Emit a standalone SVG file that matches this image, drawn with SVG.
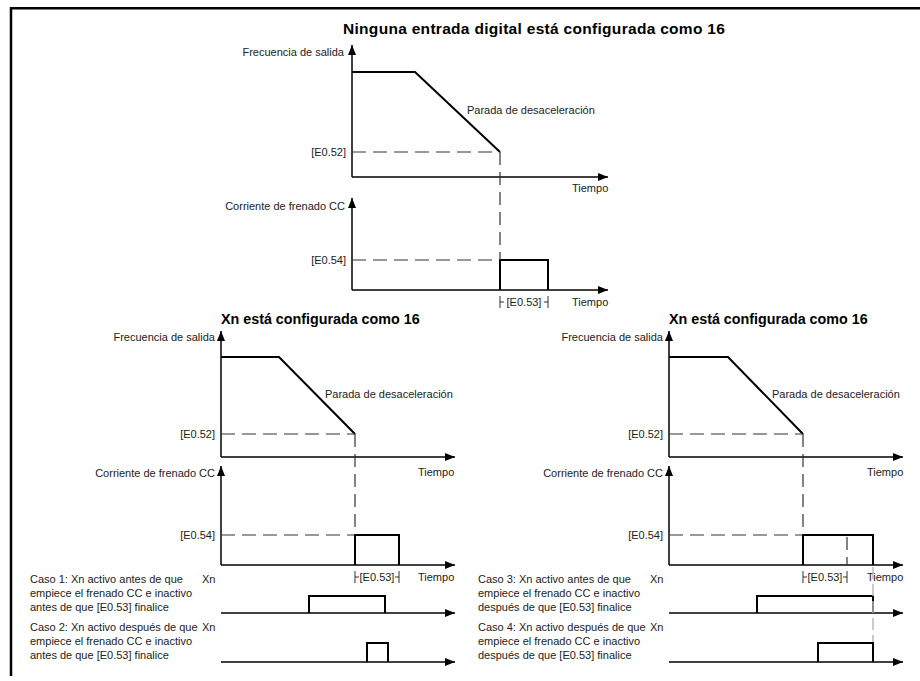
<svg xmlns="http://www.w3.org/2000/svg" width="920" height="681" viewBox="0 0 920 681">
<defs>
<style>
text{font-family:"Liberation Sans",Arial,sans-serif;font-size:11px;fill:#222}
.t{font-weight:bold;fill:#000}
.e{text-anchor:end}
.m{text-anchor:middle}
.ax{stroke:#000;stroke-width:1.5;fill:none;marker-end:url(#arr)}
.sig{stroke:#000;stroke-width:2;fill:none;stroke-linejoin:miter}
.ds{stroke:#333;stroke-width:1.2;fill:none;stroke-dasharray:14 7}
.dv{stroke:#333;stroke-width:1.2;fill:none;stroke-dasharray:13 7}
.tk{stroke:#333;stroke-width:1;fill:none}
.gd{stroke:#bbb;stroke-width:1.5;fill:none;stroke-dasharray:12 5}
.fr{stroke:#000;stroke-width:2.5;fill:none}
</style>
<marker id="arr" viewBox="0 0 10 8" refX="10" refY="4" markerWidth="10" markerHeight="8" markerUnits="userSpaceOnUse" orient="auto"><path d="M0,0 L10,4 L0,8 z" fill="#000"/></marker>
</defs>
<rect width="920" height="681" fill="#fff"/>
<g id="frame">
<path class="fr" d="M920,8.3 H11 V676"/>
</g>

<g id="top-title"><text class="t" x="343" y="34" style="font-size:15.5px;letter-spacing:0.3px">Ninguna entrada digital está configurada como 16</text></g>

<g id="top-freq">
<path class="ax" d="M352,177 V45"/>
<path class="ax" d="M352,177 H608"/>
<text class="e" x="344" y="56">Frecuencia de salida</text>
<path class="sig" d="M352,72 H415 L500,152"/>
<text x="467" y="114">Parada de desaceleración</text>
<path class="ds" d="M352,152 H500"/>
<text class="e" x="346" y="156">[E0.52]</text>
<text x="572" y="192">Tiempo</text>
</g>

<g id="top-current">
<path class="ax" d="M352,290 V198"/>
<path class="ax" d="M352,290 H608"/>
<text class="e" x="345" y="210">Corriente de frenado CC</text>
<path class="ds" d="M352,260 H500"/>
<text class="e" x="346" y="264">[E0.54]</text>
<path class="sig" d="M500,290 V260 H548 V290"/>
<path class="tk" d="M500,296 V308 M500,302 H504 M548,296 V308 M544,302 H548"/>
<text class="m" x="524" y="306">[E0.53]</text>
<text x="572" y="306">Tiempo</text>
</g>

<g id="left-title"><text class="t" x="221" y="324" style="font-size:14.3px">Xn está configurada como 16</text></g>

<g id="left-freq">
<path class="ax" d="M221,457 V331"/>
<path class="ax" d="M221,457 H455"/>
<text class="e" x="215" y="341">Frecuencia de salida</text>
<path class="sig" d="M221,357 H279 L355,434"/>
<text x="325" y="398">Parada de desaceleración</text>
<path class="ds" d="M221,434 H355"/>
<text class="e" x="215" y="438">[E0.52]</text>
<text x="418" y="476">Tiempo</text>
</g>

<g id="left-current">
<path class="ax" d="M221,565 V466"/>
<path class="ax" d="M221,565 H455"/>
<text class="e" x="215" y="477">Corriente de frenado CC</text>
<path class="ds" d="M221,535 H355"/>
<text class="e" x="215" y="539">[E0.54]</text>
<path class="sig" d="M355,565 V535 H399 V565"/>
<path class="tk" d="M355,571 V583 M355,577 H359 M399,571 V583 M395,577 H399"/>
<text class="m" x="377" y="581">[E0.53]</text>
<text x="418" y="581">Tiempo</text>
</g>

<g id="left-case1">
<text x="30" y="583">Caso 1: Xn activo antes de que</text>
<text x="30" y="597">empiece el frenado CC e inactivo</text>
<text x="30" y="611">antes de que [E0.53] finalice</text>
<text x="202" y="583">Xn</text>
<path class="ax" d="M221,613 H455"/>
<path class="sig" d="M309,613 V596 H385 V613"/>
</g>

<g id="left-case2">
<text x="30" y="631">Caso 2: Xn activo después de que</text>
<text x="30" y="645">empiece el frenado CC e inactivo</text>
<text x="30" y="659">antes de que [E0.53] finalice</text>
<text x="202" y="631">Xn</text>
<path class="ax" d="M221,662 H455"/>
<path class="sig" d="M367,662 V643 H388 V662"/>
</g>

<g id="right-title"><text class="t" x="669" y="324" style="font-size:14.3px">Xn está configurada como 16</text></g>

<g id="right-freq">
<path class="ax" d="M669,457 V331"/>
<path class="ax" d="M669,457 H903"/>
<text class="e" x="663" y="341">Frecuencia de salida</text>
<path class="sig" d="M669,357 H728 L803,434"/>
<text x="772" y="398">Parada de desaceleración</text>
<path class="ds" d="M669,434 H803"/>
<text class="e" x="663" y="438">[E0.52]</text>
<text x="867" y="476">Tiempo</text>
</g>

<g id="right-current">
<path class="ax" d="M669,565 V466"/>
<path class="ax" d="M669,565 H903"/>
<text class="e" x="663" y="477">Corriente de frenado CC</text>
<path class="ds" d="M669,535 H803"/>
<text class="e" x="663" y="539">[E0.54]</text>
<path class="sig" d="M803,565 V535 H873 V565"/>
<path class="dv" d="M847,537 V565"/>
<path class="tk" d="M803,571 V583 M803,577 H807 M847,571 V583 M843,577 H847"/>
<text class="m" x="825" y="581">[E0.53]</text>
<text x="867" y="581">Tiempo</text>
</g>

<g id="right-case3">
<text x="478" y="583">Caso 3: Xn activo antes de que</text>
<text x="478" y="597">empiece el frenado CC e inactivo</text>
<text x="478" y="611">después de que [E0.53] finalice</text>
<text x="650" y="583">Xn</text>
<path class="ax" d="M669,613 H903"/>
<path class="sig" d="M757,613 V596 H873 V613"/>
</g>

<g id="right-case4">
<text x="478" y="631">Caso 4: Xn activo después de que</text>
<text x="478" y="645">empiece el frenado CC e inactivo</text>
<text x="478" y="659">después de que [E0.53] finalice</text>
<text x="650" y="631">Xn</text>
<path class="ax" d="M669,662 H903"/>
<path class="sig" d="M818,662 V643 H873 V662"/>
</g>

<g id="connectors">
<path class="dv" d="M500,152 V260"/>
<path class="dv" d="M355,434 V535"/>
<path class="dv" d="M803,434 V535"/>
<path class="gd" d="M873,567 V642"/>
</g>
</svg>
